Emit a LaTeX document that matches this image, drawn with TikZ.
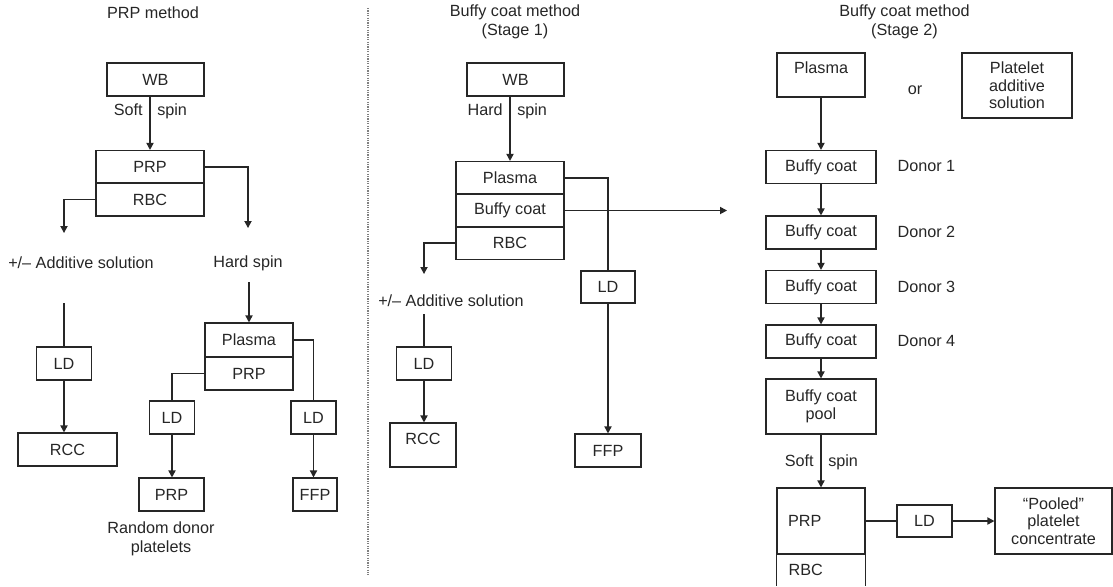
\documentclass[tikz,border=0pt]{standalone}
\usepackage{fontspec}
\setmainfont{Liberation Sans}
\usetikzlibrary{arrows.meta}
\definecolor{ink}{HTML}{262626}

\begin{document}
\begin{tikzpicture}[x=0.5pt,y=-0.5pt,line width=0.6pt,color=ink]

      \useasboundingbox (0,0) rectangle (1113,586);

      \begin{scope}[every node/.style={draw,rectangle,inner sep=0pt,minimum height=16.5pt,
          align=center,font=\fontsize{8.1}{8.8}\selectfont}]
        % PRP method
        \node (wb1)     at (155.5,79.5) [minimum width=48.5pt] {WB};
        \node (prp1)    at (150,167)    [minimum width=54pt] {PRP};
        \node (rbc1)    at (150,199.5)  [minimum width=54pt] {RBC};
        \node (ld1)     at (64,363.5)   [minimum width=27.5pt] {LD};
        \node (rcc1)    at (67.5,449.5) [minimum width=49.5pt] {RCC};
        \node (plasma1) at (249,340)    [minimum width=44pt,minimum height=17pt] {Plasma};
        \node (prp2)    at (249,373.5)  [minimum width=44pt] {PRP};
        \node (ld2)     at (172,417.5)  [minimum width=22.5pt] {LD};
        \node (ld3)     at (313.5,417.5) [minimum width=22.5pt] {LD};
        \node (prp3)    at (171.5,494.5) [minimum width=32.5pt] {PRP};
        \node (ffp1)    at (315,494.5)  [minimum width=22pt] {FFP};
        % Buffy coat, stage 1
        \node (wb2)     at (515.5,79.5) [minimum width=48.5pt] {WB};
        \node (plasma2) at (510,178)    [minimum width=54pt] {Plasma};
        \node (buffy2)  at (510,210.5)  [minimum width=54pt] {Buffy coat};
        \node (rbc2)    at (510,243)    [minimum width=54pt] {RBC};
        \node (ld4)     at (608,287)    [minimum width=27pt,minimum height=16pt] {LD};
        \node (ffp2)    at (608,450.5)  [minimum width=33pt] {FFP};
        \node (ld5)     at (424,363.5)  [minimum width=27.5pt] {LD};
        \node (rcc2)    at (423,445)    [minimum width=33pt,minimum height=22pt,text depth=6pt] {RCC};
        % Buffy coat, stage 2
        \node (plasma3) at (821,75)     [minimum width=44pt,minimum height=22pt,text depth=7pt] {Plasma};
        \node (pas)     at (1017,85.5)  [minimum width=55pt,minimum height=32.5pt] {Platelet\\additive\\solution};
        \node (bc1)     at (821,167)    [minimum width=55pt] {Buffy coat};
        \node (bc2)     at (821,232.5)  [minimum width=55pt] {Buffy coat};
        \node (bc3)     at (821,287)    [minimum width=55pt] {Buffy coat};
        \node (bc4)     at (821,341.5)  [minimum width=55pt] {Buffy coat};
        \node (pool)    at (821,406.5)  [minimum width=55pt,minimum height=27.5pt] {Buffy coat\\pool};
        \node (prp4)    at (821,521)    [minimum width=44pt,minimum height=33pt,inner xsep=5.5pt,
                                          text width=33pt,align=left] {PRP};
        \node (ld6)     at (924.5,521)  [minimum width=27.5pt,minimum height=16pt] {LD};
        \node (pooled)  at (1053.5,521) [minimum width=58.5pt,minimum height=33pt] {“Pooled”\\platelet\\concentrate};
      \end{scope}

      \begin{scope}[every node/.style={align=center,font=\fontsize{8.1}{9.4}\selectfont}]
        \node (t1) at (153,13) {PRP method};
        \node (t2) at (515,22) {Buffy coat method\\(Stage 1)};
        \node (t3) at (904.5,22) {Buffy coat method\\(Stage 2)};
        \node (add1) at (81,263) {+/– Additive solution};
        \node (hard1) at (248,263) {Hard spin};
        \node (random1) at (161,539) {Random donor\\platelets};
        \node (add2) at (451,301) {+/– Additive solution};
        \node (or1) at (915,90) {or};
        \node (donor1) at (897,166) [anchor=west,inner sep=0pt] {Donor 1};
        \node (donor2) at (897,232) [anchor=west,inner sep=0pt] {Donor 2};
        \node (donor3) at (897,287) [anchor=west,inner sep=0pt] {Donor 3};
        \node (donor4) at (897,341) [anchor=west,inner sep=0pt] {Donor 4};
        \node (rbc4) at (788,570) [anchor=west,inner sep=0pt] {RBC};
      \end{scope}

      \coordinate (a1) at (248,228);
      \coordinate (a2) at (64,233);
      \coordinate (s1) at (64,303);
      \coordinate (s2) at (249,282);
      \coordinate (a3) at (727,210.5);
      \coordinate (a4) at (424,274);
      \coordinate (s3) at (424,314);

      % divider
      \draw[gray,line width=0.6pt,dash pattern=on 0.6pt off 0.6pt] (368,8) -- (368,575);

      \begin{scope}[every node/.style={font=\fontsize{8.1}{9.4}\selectfont,text height=1.5ex,text depth=0.4ex},
          arr/.style={-{Triangle[length=3.5pt,width=3.6pt]}}]

        \begin{scope}[every edge/.style={draw,arr}]
          \path (prp1.north |- wb1.south) edge node[pos=0.24,left] {Soft} node[pos=0.24,right] {spin} (prp1.north);
          \path (s2) edge (plasma1.north);
          \path (ld1.south) edge (ld1.south |- rcc1.north);
          \path (ld2.south) edge (ld2.south |- prp3.north);
          \path (ld3.south) edge (ld3.south |- ffp1.north);
          \path (plasma2.north |- wb2.south) edge node[pos=0.2,left] {Hard} node[pos=0.2,right] {spin} (plasma2.north);
          \path (ld5.south) edge (ld5.south |- rcc2.north);
          \path (ld4.south) edge (ffp2.north);
          \path (plasma3.south) edge (bc1.north);
          \path (bc1.south) edge (bc2.north);
          \path (bc2.south) edge (bc3.north);
          \path (bc3.south) edge (bc4.north);
          \path (bc4.south) edge (pool.north);
          \path (pool.south) edge node[pos=0.5,left] {Soft} node[pos=0.5,right] {spin} (prp4.north);
          \path (ld6.east) edge (pooled.west);
        \end{scope}

        \draw[arr] (prp1.east) -| (a1);
        \draw[arr] (rbc1.west) -| (a2);
        \draw[arr] (buffy2.east) -- (a3);
        \draw[arr] (rbc2.west) -| (a4);

        \draw (s1) -- (ld1.north);
        \draw (prp2.west) -| (ld2.north);
        \draw (plasma1.east) -| (ld3.north);
        \draw (plasma2.east) -| (ld4.north);
        \draw (s3) -- (ld5.north);
        \draw (prp4.east) -- (ld6.west);
        \draw (prp4.south west) -- (prp4.south west |- 0,586);
        \draw (prp4.south east) -- (prp4.south east |- 0,586);

      \end{scope}

    \end{tikzpicture}
\end{document}
